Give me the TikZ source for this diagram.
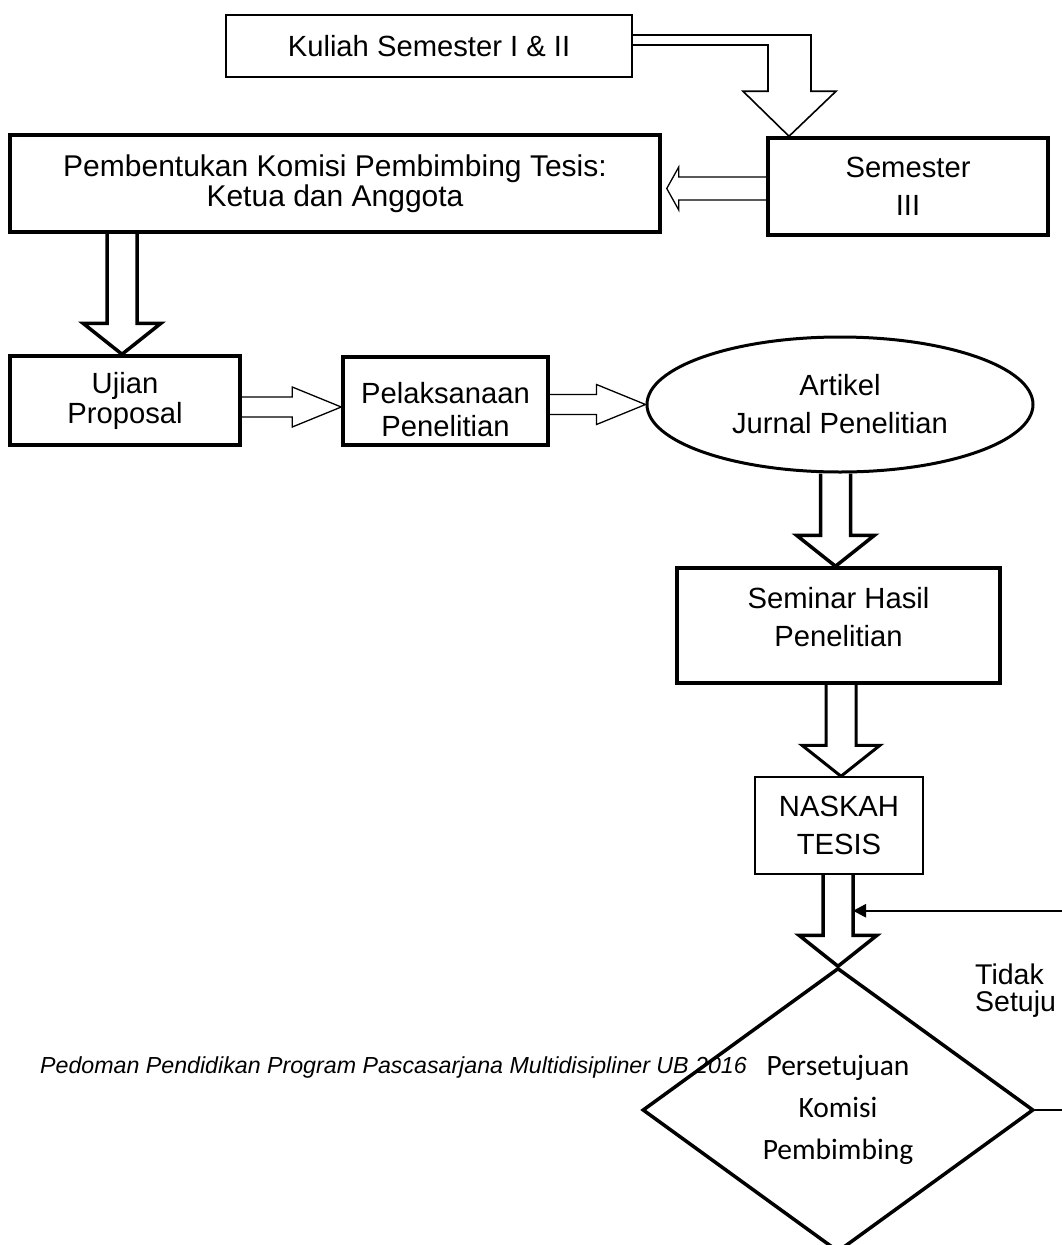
\documentclass[tikz,border=0pt]{standalone}
\usepackage{fontspec}
\setmainfont{Liberation Sans}
\newfontfamily\calibrifont{Carlito}
\usetikzlibrary{calc, shapes.geometric, arrows.meta}

\tikzset{
  boxthin/.style={draw, line width=1.5pt, inner sep=0pt, align=center,
    font=\fontsize{29.2}{38}\selectfont},
  boxthick/.style={boxthin, line width=3.5pt},
  boxlabel/.style={inner sep=0pt, align=center, font=\fontsize{29.2}{#1}\selectfont},
  hollowthin/.style={line width=1.3pt, line join=miter},
  hollowthick/.style={line width=3.5pt, line join=miter},
  fbline/.style={line width=2.5pt, -{Triangle[length=13pt,width=13pt]}}
}

% hollow block arrows between two nodes
\newcommand{\downblock}[3]{%
  \draw[#1] let \p1=(#2), \p2=(#3) in
    (\x2-15pt,\y1) -- (\x2-15pt,\y2+31pt) -- (\x2-39pt,\y2+31pt) -- (\x2,\y2)
    -- (\x2+39pt,\y2+31pt) -- (\x2+15pt,\y2+31pt) -- (\x2+15pt,\y1);}
\newcommand{\rightblock}[3]{%
  \draw[#1] let \p1=(#2), \p2=(#3) in
    (\x1,\y2+10pt) -- (\x2-49pt,\y2+10pt) -- (\x2-49pt,\y2+20pt) -- (\x2,\y2)
    -- (\x2-49pt,\y2-20pt) -- (\x2-49pt,\y2-10pt) -- (\x1,\y2-10pt);}

\begin{document}
\begin{tikzpicture}[x=1pt, y=-1pt]
  \useasboundingbox (0,0) rectangle (1062,1245);
  \clip (0,0) rectangle (1062,1245);

  \node[boxthin, minimum width=406, minimum height=62] (kuliah) at (429,46) {Kuliah Semester I \& II};
  \node[boxthick, minimum width=280, minimum height=97] (sem) at (908,186.5) {Semester\\III};
  \node[boxthick, minimum width=650, minimum height=97, font=\fontsize{30}{30}\selectfont] (pemb) at (335,183.5)
    {Pembentukan Komisi Pembimbing Tesis:\\Ketua dan Anggota};
  \node[boxthick, minimum width=230, minimum height=89, font=\fontsize{29.2}{30}\selectfont] (ujian) at (125,400.5)
    {Ujian\\Proposal};
  \node[boxthick, minimum width=205, minimum height=88,
    label={[boxlabel=33, yshift=-9pt]center:Pelaksanaan\\Penelitian}] (pel) at (445.5,401) {};
  \node[ellipse, boxthin, line width=3pt, minimum width=386, minimum height=135] (art) at (840,404.5)
    {Artikel\\Jurnal Penelitian};
  \node[boxthick, minimum width=323, minimum height=115,
    label={[boxlabel=38, yshift=8pt]center:Seminar Hasil\\Penelitian}] (seminar) at (838.5,625.5) {};
  \node[boxthin, minimum width=168, minimum height=97] (naskah) at (839,825.5) {NASKAH\\TESIS};
  \node[anchor=base west, inner sep=0pt, font=\itshape\fontsize{23.2}{28}\selectfont] (pedoman) at (40,1073)
    {Pedoman Pendidikan Program Pascasarjana Multidisipliner UB 2016};
  \node[diamond, draw, line width=3.5pt, minimum width=391, minimum height=284, inner sep=0pt, align=center,
    font=\calibrifont\fontsize{29.5}{42}\selectfont] (setuju) at (838,1110) {Persetujuan\\Komisi\\Pembimbing};
  \node[anchor=north west, inner sep=0pt, align=left, font=\fontsize{28.5}{27}\selectfont] (tidak) at (975,964)
    {Tidak\\Setuju};

  % bent arrow into Semester III
  \draw[hollowthin, line width=1.6pt] let \p1=(kuliah.east), \p2=($(sem.north)+(-119,0)$) in
    (\x1,\y1+11pt) -- (\x2+22pt,\y1+11pt) -- (\x2+22pt,\y2+45pt) -- (\x2+47pt,\y2+45pt) -- (\x2,\y2)
    -- (\x2-46pt,\y2+45pt) -- (\x2-21pt,\y2+45pt) -- (\x2-21pt,\y1+1pt) -- (\x1,\y1+1pt);
  \draw[hollowthin] let \p1=(sem.west), \p2=(pemb.east) in
    (\x1,\y2+6.5pt) -- (\x2+17pt,\y2+6.5pt) -- (\x2+17pt,\y2+16.5pt) -- (\x2+5pt,\y2-5pt)
    -- (\x2+17pt,\y2-26.5pt) -- (\x2+17pt,\y2-16.5pt) -- (\x1,\y2-16.5pt);

  \downblock{hollowthick}{pemb.south}{$(ujian.north)+(-3,0)$}
  \rightblock{hollowthin}{ujian.east}{$(pel.west)+(0,6)$}
  \rightblock{hollowthin}{pel.east}{art.west}
  \downblock{hollowthick}{art.south}{$(seminar.north)+(-3,0)$}
  \downblock{hollowthick, line width=3pt}{seminar.south}{$(naskah.north)+(2,0)$}
  \downblock{hollowthick}{naskah.south}{setuju.north}

  % Tidak Setuju loop back
  \coordinate (balik) at ($(naskah.south)+(14,36)$);
  \draw[fbline] (setuju.east) -- ++(60,0) |- (balik);
\end{tikzpicture}
\end{document}
